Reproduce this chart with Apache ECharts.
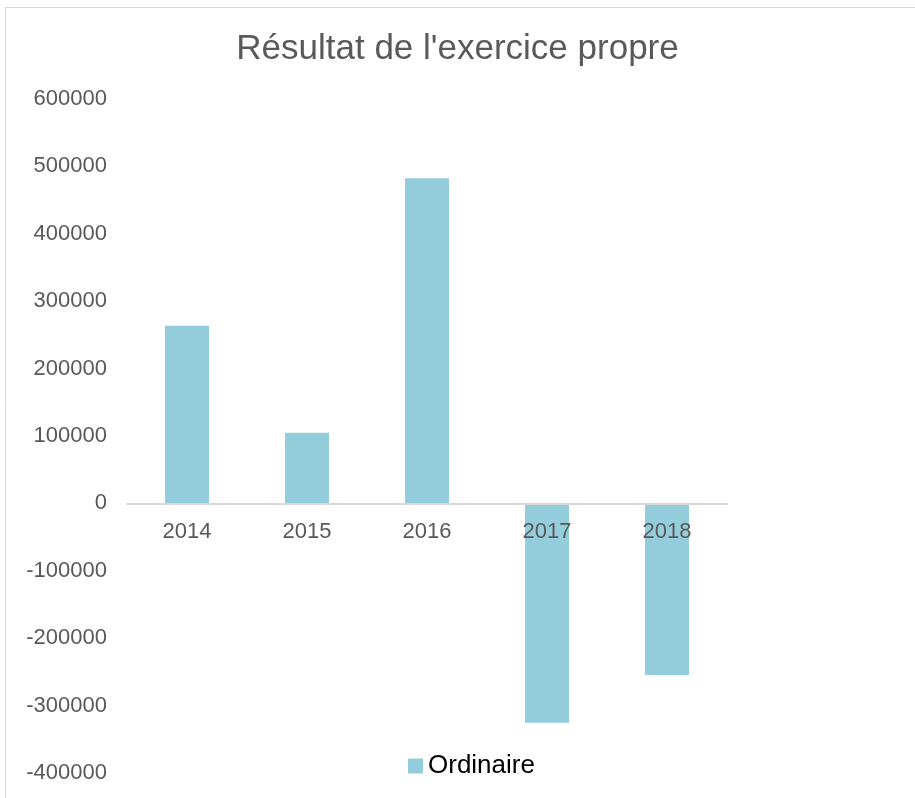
<!DOCTYPE html>
<html>
<head>
<meta charset="utf-8">
<script src="https://cdn.jsdelivr.net/npm/echarts@6/dist/echarts.min.js"></script>
<style>
  html, body { margin: 0; padding: 0; background: #fff; }
  #chart { width: 915px; height: 798px; }
</style>
</head>
<body>
<div id="chart"></div>
<script>
const years = ["2014", "2015", "2016", "2017", "2018"];
const ordinaire = [263500, 104700, 482600, -325500, -254700];
const seriesName = "Ordinaire";
const titleText = "Résultat de l'exercice propre";
const yMin = -400000;
const yMax = 600000;
const yStep = 100000;

const chart = echarts.init(document.getElementById("chart"));
// grid 1 ends at the zero line so the year labels sit just under it
const zeroFromTop = 674 * yMax / (yMax - yMin);
const option = {
  animation: false,
  textStyle: { fontFamily: "Liberation Sans, Arial, sans-serif" },
  title: {
    text: titleText,
    left: "center",
    top: 27,
    textStyle: { fontSize: 35, fontWeight: "normal", color: "#595959" },
  },
  legend: {
    data: [seriesName],
    left: 403,
    bottom: 14,
    itemWidth: 15,
    itemHeight: 15,
    itemGap: 5,
    icon: "rect",
    textStyle: { fontSize: 26, color: "#000" },
  },
  grid: [
    { left: 127, right: 188, top: 99, bottom: 25, outerBoundsMode: "none", containLabel: false },
    { left: 127, right: 188, top: 99, height: zeroFromTop, outerBoundsMode: "none", containLabel: false },
  ],
  xAxis: [
    {
      type: "category",
      data: years,
      gridIndex: 0,
      axisLine: { show: false },
      axisTick: { show: false },
      axisLabel: { show: false },
    },
    {
      type: "category",
      data: years,
      gridIndex: 1,
      z: 5,
      axisLine: { lineStyle: { color: "#d9d9d9", width: 2 } },
      axisTick: { show: false },
      axisLabel: { fontSize: 22, color: "#595959", margin: 18 },
    },
  ],
  yAxis: [
    {
      type: "value",
      gridIndex: 0,
      min: yMin,
      max: yMax,
      interval: yStep,
      axisLine: { show: false },
      axisTick: { show: false },
      splitLine: { show: false },
      axisLabel: { fontSize: 22, color: "#595959", margin: 20, formatter: (v) => String(v) },
    },
    {
      type: "value",
      gridIndex: 1,
      min: 0,
      max: 1,
      show: false,
    },
  ],
  graphic: [
    {
      type: "rect",
      shape: { x: 5.5, y: 7.5, width: 1000, height: 1000 },
      style: { fill: "none", stroke: "#d9d9d9", lineWidth: 1 },
      silent: true,
    },
  ],
  series: [
    {
      name: seriesName,
      type: "bar",
      xAxisIndex: 0,
      yAxisIndex: 0,
      data: ordinaire,
      barWidth: 44,
      itemStyle: { color: "#93CDDB" },
    },
  ],
};
chart.setOption(option);
window.addEventListener("resize", chart.resize);
</script>
</body>
</html>
